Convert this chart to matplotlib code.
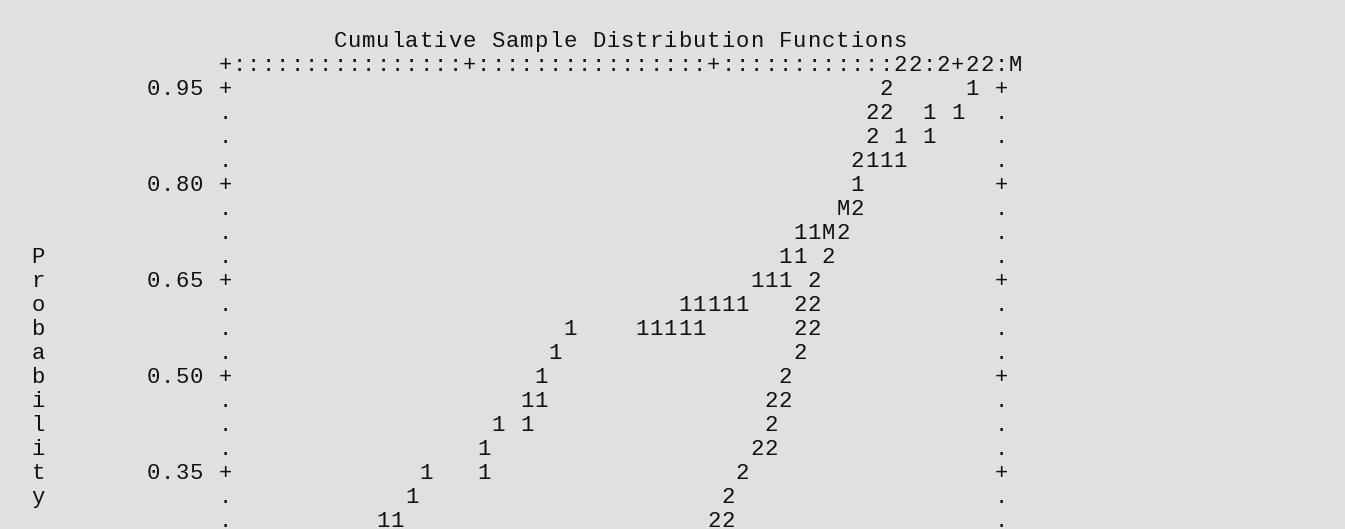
import matplotlib
matplotlib.use("Agg")
import matplotlib.pyplot as plt

# character-plot layout: columns relative to the left axis, rows from the top line
title = "Cumulative Sample Distribution Functions"
y_label = "Probability"
y_ticks = ["0.95", "0.80", "0.65", "0.50", "0.35"]
tick_rows = [2, 6, 10, 14, 18]
x_tick_cols = [0, 17, 34, 51]

# columns hit by each sample on plot rows 2..20
series1 = [[52], [49, 51], [47, 49], [45, 46, 47], [44], [], [40, 41], [39, 40],
           [37, 38, 39], [32, 33, 34, 35, 36], [24, 29, 30, 31, 32, 33], [23], [22],
           [21, 22], [19, 21], [18], [14, 18], [13], [11, 12]]
series2 = [[46], [45, 46], [45], [44], [], [44], [43], [42], [41], [40, 41], [40, 41],
           [40], [39], [38, 39], [38], [37, 38], [36], [35], [34, 35]]
both = [[], [], [], [], [], [43], [42], [], [], [], [], [], [], [], [], [], [], [], []]
# points sitting on the top border (row 1)
top2 = [47, 48, 50, 52, 53]
top_both = [55]

first_row = 2
n_rows = 21
right_col = 54

cw = 14.37   # pixels per column
rh = 24.0    # pixels per row
x0 = 225.0   # pixel centre of column 0
y0 = 40.0    # pixel centre of row 0
W, H = 1345, 529

fig = plt.figure(figsize=(W / 100, H / 100), dpi=100)
fig.patch.set_facecolor("#e0e0e0")
ax = fig.add_axes([0, 0, 1, 1])
ax.set_facecolor("#e0e0e0")
ax.set_xlim(-x0 / cw, (W - x0) / cw)
ax.set_ylim((H - y0) / rh, -y0 / rh)
ax.axis("off")

fs = 16
font = dict(family=["Liberation Mono", "DejaVu Sans Mono"], size=fs, color="#111111",
            ha="center", va="baseline")
base = 0.29


def put(col, row, ch):
    if ch != " ":
        ax.text(col, row + base, ch, **font)


def put_str(col, row, s):
    for i, ch in enumerate(s):
        put(col + i, row, ch)


put_str(8, 0, title)

# top border
for c in range(right_col + 1):
    ch = "+" if c in x_tick_cols else ":"
    if c in top2:
        ch = "2"
    put(c, 1, ch)
for c in top_both:
    put(c, 1, "M")

# side axes
for r in range(first_row, n_rows):
    ch = "+" if r in tick_rows else "."
    put(0, r, ch)
    put(right_col, r, ch)

for lab, r in zip(y_ticks, tick_rows):
    put_str(-1 - len(lab), r, lab)

for i, ch in enumerate(y_label):
    put(-13, 9 + i, ch)

for i, cols in enumerate(series1):
    for c in cols:
        put(c, first_row + i, "1")
for i, cols in enumerate(series2):
    for c in cols:
        put(c, first_row + i, "2")
for i, cols in enumerate(both):
    for c in cols:
        put(c, first_row + i, "M")

fig.savefig("out.png", dpi=100, facecolor=fig.get_facecolor())
